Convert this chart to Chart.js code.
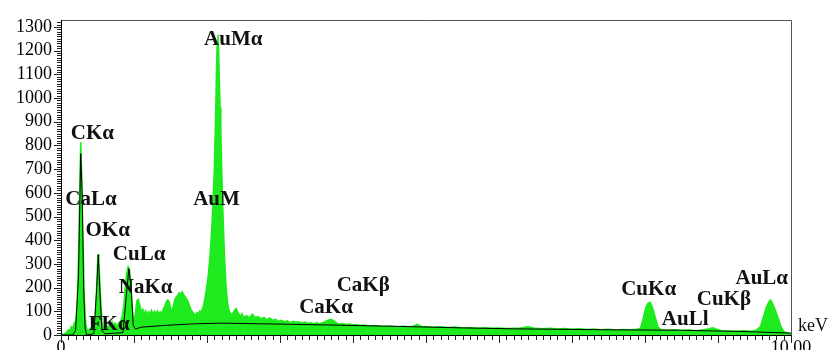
<!DOCTYPE html>
<html>
<head>
<meta charset="utf-8">
<script src="https://cdn.jsdelivr.net/npm/chart.js@4.4.1/dist/chart.umd.min.js"></script>
<style>
html, body { margin: 0; padding: 0; overflow: hidden; background: #fff; }
#wrap { width: 829px; height: 360px; position: relative; }
</style>
</head>
<body>
<div id="wrap"><canvas id="eds"></canvas></div>
<script>
// spectrum (keV / counts)
const keV = [
  0, 0.04, 0.08, 0.10, 0.12, 0.14, 0.16, 0.18, 0.20, 0.22, 0.24, 0.26, 0.27, 0.28, 0.30, 0.32, 0.34, 0.36, 0.38, 0.40,
  0.42, 0.44, 0.46, 0.48, 0.50, 0.51, 0.52, 0.54, 0.56, 0.58, 0.60, 0.62, 0.64, 0.66, 0.68, 0.70, 0.72, 0.74, 0.76, 0.78,
  0.80, 0.82, 0.84, 0.86, 0.88, 0.90, 0.92, 0.94, 0.96, 0.98, 1.00, 1.02, 1.04, 1.06, 1.08, 1.10, 1.12, 1.14, 1.16, 1.18,
  1.20, 1.22, 1.24, 1.26, 1.28, 1.30, 1.32, 1.34, 1.36, 1.38, 1.40, 1.42, 1.44, 1.46, 1.48, 1.50, 1.52, 1.54, 1.56, 1.58,
  1.60, 1.62, 1.64, 1.66, 1.68, 1.70, 1.72, 1.74, 1.76, 1.78, 1.80, 1.82, 1.84, 1.86, 1.88, 1.90, 1.92, 1.94, 1.96, 1.98,
  2.00, 2.02, 2.04, 2.06, 2.08, 2.10, 2.12, 2.13, 2.14, 2.15, 2.16, 2.17, 2.18, 2.19, 2.20, 2.22, 2.24, 2.26, 2.28, 2.30,
  2.32, 2.34, 2.36, 2.38, 2.40, 2.42, 2.44, 2.46, 2.48, 2.50, 2.54, 2.58, 2.62, 2.66, 2.70, 2.74, 2.78, 2.82, 2.86, 2.90,
  2.94, 2.98, 3.02, 3.06, 3.10, 3.14, 3.18, 3.22, 3.26, 3.30, 3.34, 3.38, 3.42, 3.46, 3.50, 3.54, 3.58, 3.62, 3.66, 3.70,
  3.74, 3.78, 3.82, 3.86, 3.90, 3.95, 4.00, 4.05, 4.10, 4.15, 4.20, 4.30, 4.40, 4.50, 4.60, 4.70, 4.80, 4.88, 4.95, 5.00,
  5.10, 5.20, 5.30, 5.40, 5.50, 5.60, 5.70, 5.80, 5.90, 6.00, 6.10, 6.20, 6.30, 6.40, 6.50, 6.60, 6.70, 6.80, 6.90, 7.00,
  7.10, 7.20, 7.30, 7.40, 7.50, 7.60, 7.70, 7.80, 7.90, 7.94, 7.98, 8.01, 8.04, 8.07, 8.10, 8.14, 8.18, 8.22, 8.30, 8.40,
  8.50, 8.60, 8.70, 8.80, 8.88, 8.93, 8.98, 9.05, 9.15, 9.25, 9.35, 9.45, 9.52, 9.58, 9.62, 9.66, 9.70, 9.72, 9.75, 9.78,
  9.82, 9.86, 9.90, 9.95, 10.00
];
const counts = [
  0, 4, 12, 22, 18, 35, 30, 48, 60, 120, 330, 680, 813, 720, 420, 150, 45, 18, 20, 28,
  22, 35, 50, 140, 300, 340, 310, 170, 60, 20, 25, 40, 32, 48, 40, 55, 42, 50, 38, 46,
  55, 60, 80, 120, 200, 260, 288, 275, 200, 100, 45, 95, 145, 150, 125, 100, 108, 88, 102, 84,
  98, 90, 104, 86, 100, 92, 102, 88, 98, 90, 108, 120, 138, 148, 142, 115, 100, 124, 150, 162,
  168, 178, 172, 182, 170, 162, 152, 142, 124, 108, 98, 90, 84, 94, 88, 102, 98, 112, 135, 170,
  210, 260, 330, 420, 540, 700, 950, 1120, 1240, 1267, 1200, 1060, 960, 860, 720, 500, 330, 210, 140, 105,
  92, 84, 95, 106, 112, 98, 86, 80, 90, 74, 82, 72, 88, 74, 78, 68, 74, 64, 72, 62,
  66, 58, 62, 56, 60, 52, 58, 54, 56, 50, 55, 50, 52, 48, 52, 48, 52, 56, 62, 66,
  60, 50, 46, 48, 44, 46, 42, 44, 40, 42, 38, 40, 36, 38, 35, 37, 34, 45, 34, 36,
  33, 35, 32, 34, 30, 32, 29, 31, 28, 30, 27, 29, 30, 35, 28, 26, 28, 25, 27, 24,
  26, 23, 25, 22, 24, 21, 23, 22, 24, 30, 75, 115, 134, 138, 118, 75, 32, 22, 20, 22,
  19, 21, 18, 22, 26, 30, 24, 18, 17, 16, 18, 16, 20, 34, 75, 115, 142, 148, 132, 110,
  75, 38, 15, 8, 5
];

// black fitted curve
const fitKeV = [0, 0.16, 0.20, 0.24, 0.27, 0.29, 0.31, 0.33, 0.35, 0.45,
  0.49, 0.51, 0.53, 0.56, 0.60, 0.85, 0.89, 0.93, 0.96, 0.99,
  1.02, 1.10, 1.40, 1.80, 2.20, 3.00, 3.70, 4.50, 5.50, 6.20,
  7.50, 8.50, 9.30, 10.00];
const fitCounts = [0, 0, 20, 250, 765, 600, 200, 30, 0, 5,
  200, 340, 200, 20, 5, 10, 150, 280, 200, 40,
  25, 33, 40, 47, 50, 46, 42, 37, 30, 26,
  22, 20, 15, 8];

const yTicks = [0, 100, 200, 300, 400, 500, 600, 700, 800, 900, 1000, 1100, 1200, 1300];
const xTicks = [0, 10];
const xTickLabels = ['0', '10.00'];

// peak labels, placed at (keV, counts)
const peakNames = ['AuMα', 'CKα', 'CaLα', 'OKα', 'CuLα', 'NaKα', 'FKα', 'AuM',
  'CaKα', 'CaKβ', 'CuKα', 'AuLl', 'CuKβ', 'AuLα'];
const peakKeV = [2.36, 0.43, 0.41, 0.64, 1.07, 1.16, 0.66, 2.13,
  3.63, 4.14, 8.05, 8.55, 9.08, 9.60];
const peakCounts = [1246, 849, 571, 442, 338, 201, 44, 573,
  116, 208, 191, 66, 150, 237];

const serif = '"Liberation Serif", "Times New Roman", serif';

const edsDecor = {
  id: 'edsDecor',
  afterDraw(chart) {
    const ctx = chart.ctx;
    const a = chart.chartArea;
    const xs = chart.scales.x, ys = chart.scales.y;
    ctx.save();
    ctx.lineWidth = 1;

    // frame
    ctx.strokeStyle = '#555';
    ctx.beginPath();
    ctx.moveTo(a.left, Math.round(a.top) + 0.5);
    ctx.lineTo(Math.round(a.right) + 0.5, Math.round(a.top) + 0.5);
    ctx.lineTo(Math.round(a.right) + 0.5, a.bottom);
    ctx.stroke();
    ctx.strokeStyle = '#000';
    ctx.beginPath();
    ctx.moveTo(Math.round(a.left) + 0.5, a.top);
    ctx.lineTo(Math.round(a.left) + 0.5, Math.round(a.bottom) + 0.5);
    ctx.lineTo(a.right, Math.round(a.bottom) + 0.5);
    ctx.stroke();

    // x ticks every 0.1 keV
    ctx.strokeStyle = '#222';
    ctx.beginPath();
    for (let i = 0; i <= 100; i++) {
      const px = Math.round(xs.getPixelForValue(i / 10)) + 0.5;
      const len = i % 10 === 0 ? 8 : 5;
      ctx.moveTo(px, a.bottom);
      ctx.lineTo(px, a.bottom + len);
    }
    // y ticks every 10 counts
    for (let v = 0; v <= 1320; v += 10) {
      const py = Math.round(ys.getPixelForValue(v)) + 0.5;
      const len = v % 100 === 0 ? 7 : 4;
      ctx.moveTo(a.left, py);
      ctx.lineTo(a.left - len, py);
    }
    ctx.stroke();

    // peak labels
    ctx.fillStyle = '#111';
    ctx.font = 'bold 21px ' + serif;
    ctx.textAlign = 'center';
    ctx.textBaseline = 'middle';
    peakNames.forEach((name, i) => {
      ctx.fillText(name, xs.getPixelForValue(peakKeV[i]), ys.getPixelForValue(peakCounts[i]));
    });

    // axis unit
    ctx.font = '18px ' + serif;
    ctx.textAlign = 'left';
    ctx.fillText('keV', a.right + 7, a.bottom - 9);
    ctx.restore();
  }
};

const ctx = document.getElementById('eds').getContext('2d');
const edsChart = new Chart(ctx, {
  type: 'line',
  data: {
    datasets: [{
      label: 'fit',
      data: fitKeV.map((x, i) => ({ x: x, y: fitCounts[i] })),
      borderColor: '#000',
      borderWidth: 1,
      pointRadius: 0,
      fill: false,
      tension: 0,
      order: 0
    }, {
      label: 'spectrum',
      data: keV.map((x, i) => ({ x: x, y: counts[i] })),
      borderColor: 'rgb(30,235,30)',
      backgroundColor: 'rgb(30,235,30)',
      borderWidth: 1.5,
      pointRadius: 0,
      fill: 'origin',
      tension: 0,
      order: 1
    }]
  },
  options: {
    responsive: true,
    maintainAspectRatio: false,
    animation: false,
    layout: { padding: { top: 15, right: 38, left: 0, bottom: 0 } },
    plugins: {
      legend: { display: false },
      tooltip: { enabled: false }
    },
    scales: {
      x: {
        type: 'linear',
        min: 0,
        max: 10,
        grid: { display: false, drawTicks: false },
        border: { display: false },
        afterBuildTicks: scale => { scale.ticks = xTicks.map(v => ({ value: v })); },
        afterFit: scale => { scale.height = 25; },
        ticks: {
          padding: 2,
          maxRotation: 0,
          autoSkip: false,
          color: '#000',
          font: { family: serif, size: 18 },
          callback: v => xTickLabels[xTicks.indexOf(v)]
        }
      },
      y: {
        min: 0,
        max: 1330,
        grid: { display: false, drawTicks: false },
        border: { display: false },
        afterBuildTicks: scale => { scale.ticks = yTicks.map(v => ({ value: v })); },
        afterFit: scale => { scale.width = 61; },
        ticks: {
          padding: 9,
          autoSkip: false,
          color: '#000',
          font: { family: serif, size: 18 },
          callback: v => String(v)
        }
      }
    }
  },
  plugins: [edsDecor]
});
</script>
</body>
</html>
